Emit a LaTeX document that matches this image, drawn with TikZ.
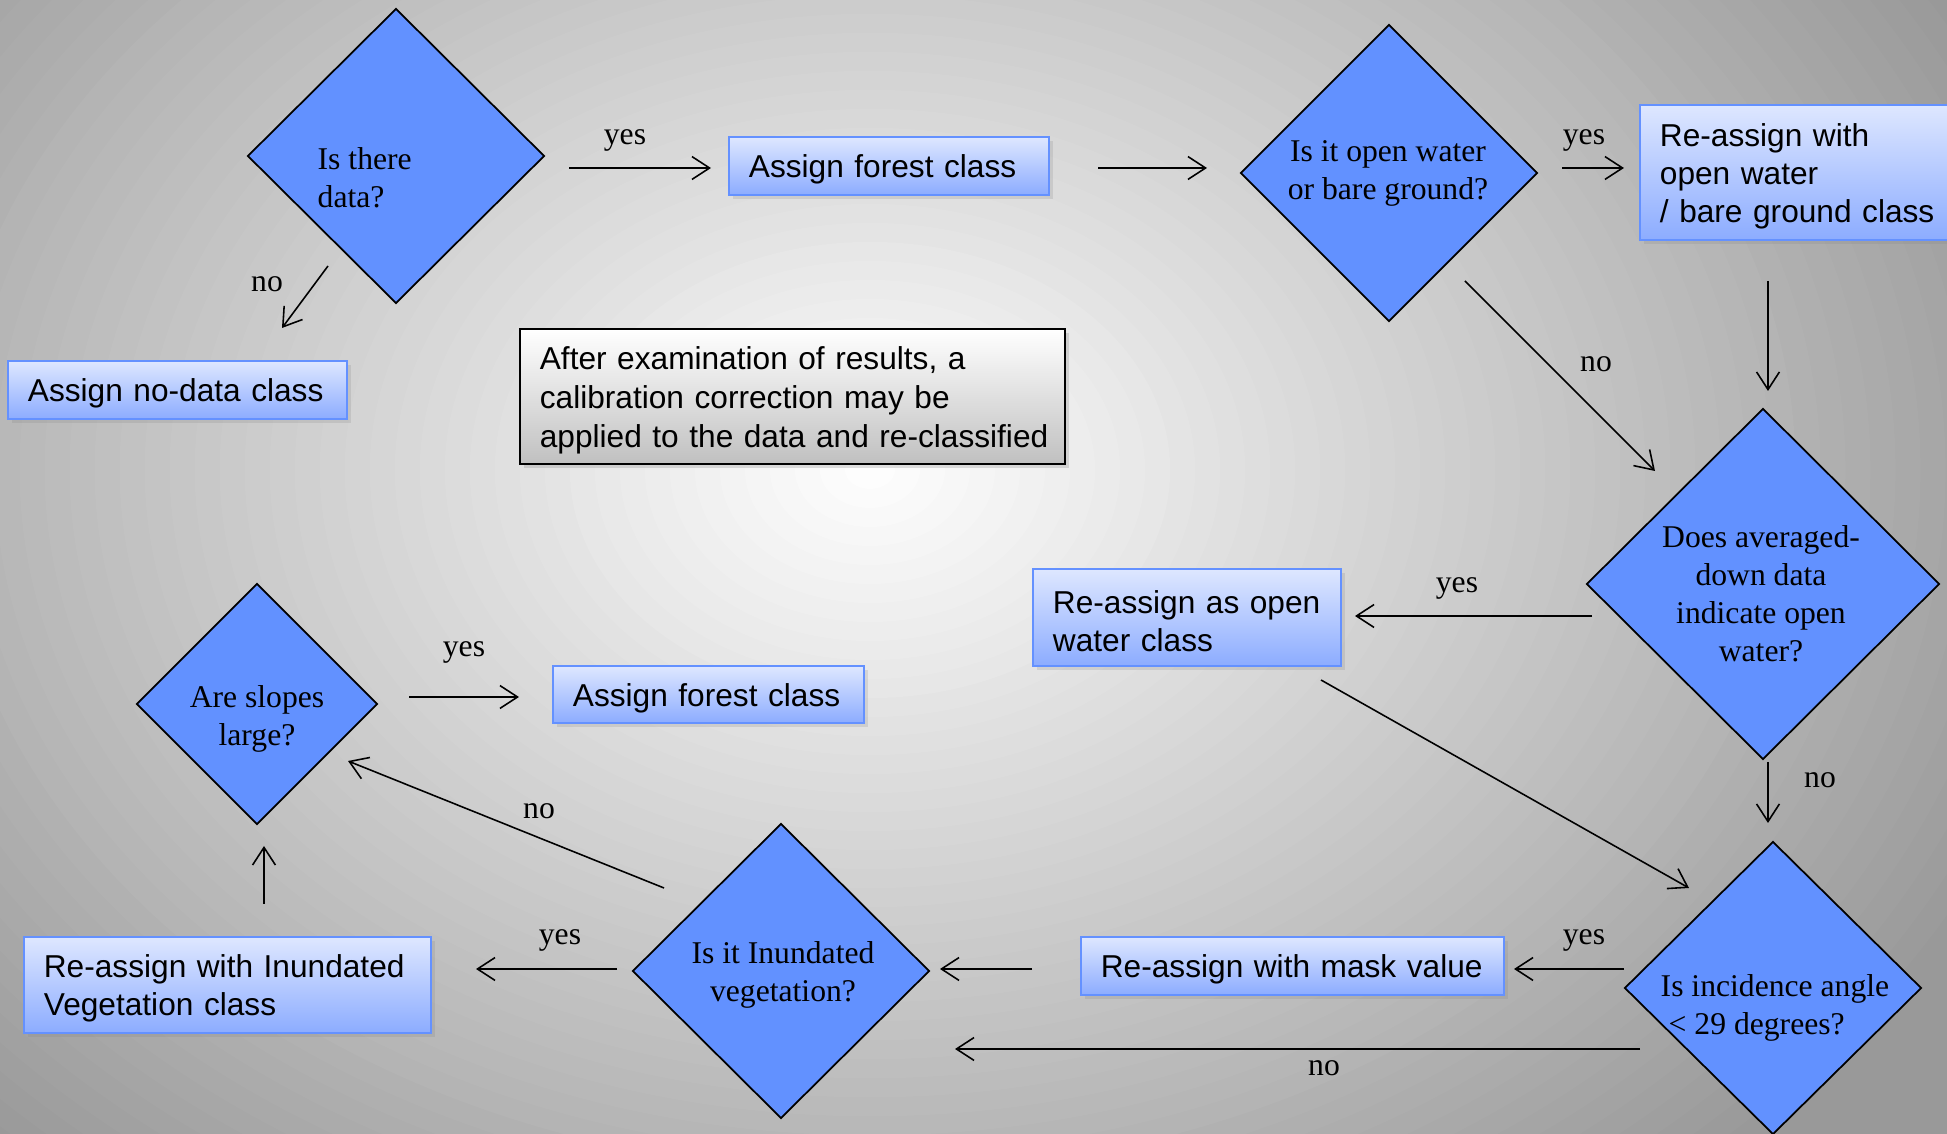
\documentclass[tikz,border=0pt]{standalone}
\usepackage{fontspec}
\setmainfont{Liberation Serif}
\newfontfamily\sansf{Liberation Sans}
\usetikzlibrary{arrows.meta,shapes.geometric,shadows}
\definecolor{boxtop}{RGB}{222,231,255}
\definecolor{boxbot}{RGB}{140,172,255}
\definecolor{boxline}{RGB}{100,145,255}
\definecolor{dfill}{RGB}{98,145,255}
\definecolor{calbot}{RGB}{192,192,192}
\begin{document}
\begin{tikzpicture}[x=0.01cm,y=-0.01cm,
  decision/.style={diamond,draw=black,line width=0.5pt,fill=dfill,inner sep=0pt,outer sep=0pt},
  dtext/.style={inner sep=0pt,font=\fontsize{9pt}{10.8pt}\selectfont,align=center,yshift=-1pt},
  bluebox/.style={rectangle,draw=boxline,line width=0.7pt,top color=boxtop,bottom color=boxbot,
    inner xsep=0.2cm,inner ysep=0pt,align=left,font=\sansf\fontsize{9pt}{10.8pt}\selectfont,
    execute at begin node={\rule{0pt}{8.6pt}},
    drop shadow={opacity=0.2,shadow xshift=1.2pt,shadow yshift=-1.2pt}},
  notebox/.style={rectangle,draw=black,line width=0.6pt,top color=white,bottom color=calbot,
    inner xsep=0.2cm,inner ysep=0pt,align=left,font=\sansf\fontsize{9pt}{11pt}\selectfont,
    execute at begin node={\rule{0pt}{8.6pt}},
    drop shadow={opacity=0.25,shadow xshift=1.2pt,shadow yshift=-1.2pt}},
  arr/.style={line width=0.45pt,-{Straight Barb[length=5pt,width=6.5pt]}},
  lbl/.style={font=\fontsize{9pt}{10.8pt}\selectfont,inner sep=0pt,yshift=-1pt}
]
\useasboundingbox (0,0) rectangle (1947,1134);
\clip (0,0) rectangle (1947,1134);
% background
\fill[black!40] (0,0) rectangle (1947,1134);
\foreach \i in {50,49,...,1}{
  \pgfmathsetmacro\f{\i/50}
  \pgfmathsetmacro\p{40*\f}
  \fill[black!\p] (870,470) ellipse [x radius=12.5cm*\f, y radius=9.5cm*\f];
}

% decisions
\node[decision,minimum width=2.96cm,minimum height=2.94cm] (dA) at (396,156) {};
\node[dtext,anchor=west,align=left,yshift=1pt] (tA) at (317,178) {Is there\\data?};
\node[decision,minimum width=2.96cm,minimum height=2.96cm] (dB) at (1389,173) {};
\node[dtext] (tB) at (1388,170) {Is it open water\\or bare ground?};
\node[decision,minimum width=3.52cm,minimum height=3.50cm] (dC) at (1763,584) {};
\node[dtext,yshift=1pt] (tC) at (1761,594) {Does averaged-\\down data\\indicate open\\water?};
\node[decision,minimum width=2.40cm,minimum height=2.40cm] (dD) at (257,704) {};
\node[dtext] (tD) at (257,715) {Are slopes\\large?};
\node[decision,minimum width=2.96cm,minimum height=2.94cm] (dE) at (781,971) {};
\node[dtext] (tE) at (783,971) {Is it Inundated\\vegetation?};
\node[decision,minimum width=2.96cm,minimum height=2.92cm] (dF) at (1773,988) {};
\node[dtext,anchor=west,align=left] (tF) at (1660,1004) {Is incidence angle\\\hspace*{0.08cm}< 29 degrees?};

% boxes
\node[bluebox,text width=2.80cm,minimum height=0.58cm] (bF1) at (889,166) {Assign forest class};
\node[bluebox,text width=2.99cm,minimum height=0.58cm] (bND) at (177.5,390) {Assign no-data class};
\node[notebox,text width=5.05cm,minimum height=1.35cm] (bCal) at (792.5,396.5) {\mbox{After examination of results, a}\\\mbox{calibration correction may be}\\\mbox{applied to the data and re-classified}};
\node[bluebox,text width=3.10cm,minimum height=1.35cm] (bOW) at (1815,172.5) {Re-assign with\\open water\\\mbox{/ bare ground class}};
\node[bluebox,text width=2.68cm,minimum height=0.97cm] (bOWC) at (1187,617.5) {Re-assign as open\\water class};
\node[bluebox,text width=2.71cm,minimum height=0.57cm] (bF2) at (708.5,694.5) {Assign forest class};
\node[bluebox,text width=3.67cm,minimum height=0.96cm] (bIV) at (227.5,985) {\mbox{Re-assign with Inundated}\\Vegetation class};
\node[bluebox,text width=3.83cm,minimum height=0.58cm] (bMV) at (1292.5,966) {\mbox{Re-assign with mask value}};

% connector end points
\coordinate (a1s) at (569,168);  \coordinate (a1e) at (711,168);
\coordinate (a2s) at (328,266);  \coordinate (a2e) at (282,328);
\coordinate (a3s) at (1098,168); \coordinate (a3e) at (1207,168);
\coordinate (a4s) at (1562,168); \coordinate (a4e) at (1624,168);
\coordinate (a5s) at (1768,281); \coordinate (a5e) at (1768,391);
\coordinate (a6s) at (1465,281); \coordinate (a6e) at (1655,471);
\coordinate (a7s) at (1592,616); \coordinate (a7e) at (1355,616);
\coordinate (a8s) at (1768,762); \coordinate (a8e) at (1768,823);
\coordinate (a9s) at (1321,680); \coordinate (a9e) at (1689,888);
\coordinate (a10s) at (1624,969); \coordinate (a10e) at (1514,969);
\coordinate (a11s) at (1640,1049); \coordinate (a11e) at (955,1049);
\coordinate (a12s) at (1032,969); \coordinate (a12e) at (940,969);
\coordinate (a13s) at (617,969); \coordinate (a13e) at (476,969);
\coordinate (a14s) at (264,904); \coordinate (a14e) at (264,846);
\coordinate (a15s) at (664,888); \coordinate (a15e) at (348,761);
\coordinate (a16s) at (409,697); \coordinate (a16e) at (519,697);

% connectors
\draw[arr] (a1s) -- (a1e);
\draw[arr] (a2s) -- (a2e);
\draw[arr] (a3s) -- (a3e);
\draw[arr] (a4s) -- (a4e);
\draw[arr] (a5s) -- (a5e);
\draw[arr] (a6s) -- (a6e);
\draw[arr] (a7s) -- (a7e);
\draw[arr] (a8s) -- (a8e);
\draw[arr] (a9s) -- (a9e);
\draw[arr] (a10s) -- (a10e);
\draw[arr] (a11s) -- (a11e);
\draw[arr] (a12s) -- (a12e);
\draw[arr] (a13s) -- (a13e);
\draw[arr] (a14s) -- (a14e);
\draw[arr] (a15s) -- (a15e);
\draw[arr] (a16s) -- (a16e);

% labels
\node[lbl] (l1) at (625,137) {yes};
\node[lbl] (l2) at (267,281) {no};
\node[lbl] (l4) at (1584,137) {yes};
\node[lbl] (l6) at (1596,361) {no};
\node[lbl] (l7) at (1457,585) {yes};
\node[lbl] (l8) at (1820,777) {no};
\node[lbl] (l10) at (1584,937) {yes};
\node[lbl] (l11) at (1324,1065) {no};
\node[lbl] (l13) at (560,937) {yes};
\node[lbl] (l15) at (539,808) {no};
\node[lbl] (l16) at (464,649) {yes};
\end{tikzpicture}
\end{document}
